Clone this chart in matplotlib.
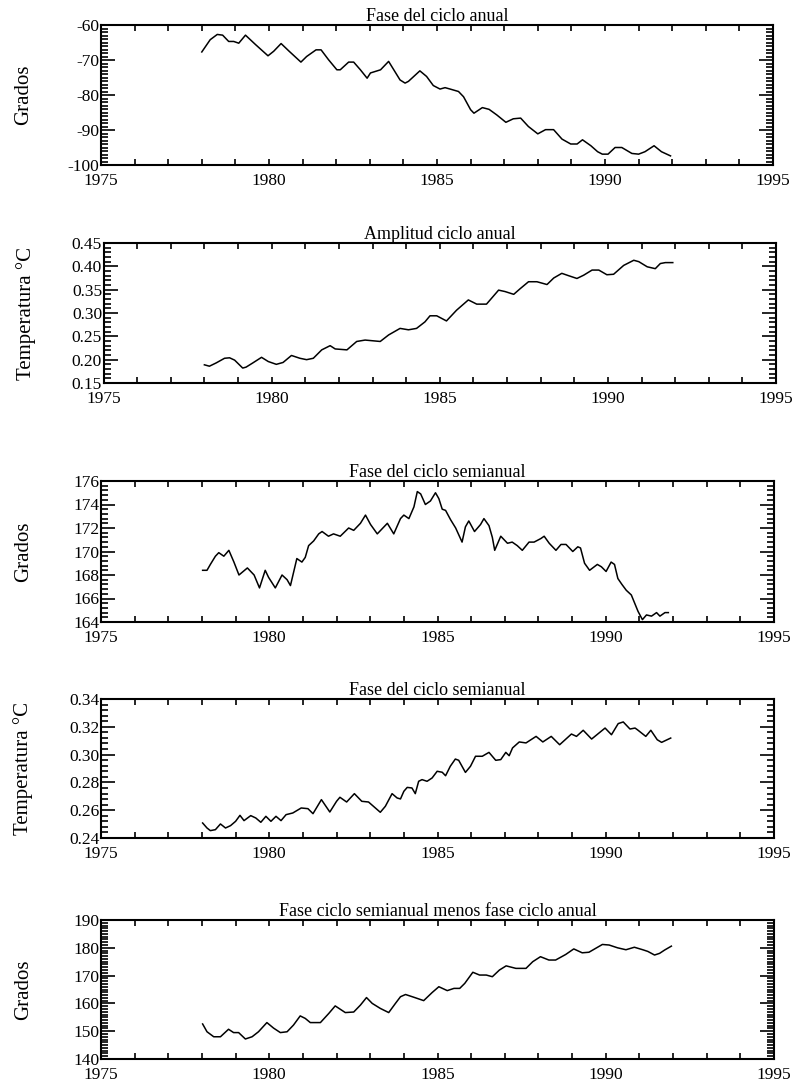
import numpy as np
import matplotlib
matplotlib.use("Agg")
import matplotlib.pyplot as plt
from matplotlib.ticker import MultipleLocator, FormatStrFormatter

plt.rcParams['font.family'] = ['Liberation Serif', 'DejaVu Serif']

# --- Fase del ciclo anual (grados)
t1 = [1978.0, 1978.25, 1978.46, 1978.62, 1978.8, 1978.95, 1979.1, 1979.3, 1979.6, 1979.97,
      1980.14, 1980.36, 1980.6, 1980.95, 1981.12, 1981.4, 1981.55, 1981.77, 1982.02, 1982.12,
      1982.37, 1982.52, 1982.72, 1982.92, 1983.02, 1983.32, 1983.56, 1983.9, 1984.05, 1984.15,
      1984.49, 1984.69, 1984.89, 1985.09, 1985.24, 1985.39, 1985.64, 1985.79, 1986.0, 1986.1,
      1986.35, 1986.55, 1986.78, 1987.05, 1987.27, 1987.49, 1987.72, 1988.0, 1988.23, 1988.47,
      1988.72, 1988.98, 1989.17, 1989.33, 1989.58, 1989.78, 1989.92, 1990.09, 1990.3, 1990.5,
      1990.8, 1991.0, 1991.19, 1991.46, 1991.68, 1991.95]
v1 = [-67.7, -64.2, -62.7, -62.9, -64.7, -64.7, -65.2, -62.9, -65.6, -68.8,
      -67.5, -65.3, -67.5, -70.6, -69.0, -67.1, -67.1, -69.9, -72.8, -72.8,
      -70.6, -70.6, -72.8, -75.2, -73.7, -72.8, -70.4, -75.7, -76.6, -76.1,
      -73.1, -74.7, -77.3, -78.3, -77.9, -78.3, -79.0, -80.5, -84.2, -85.2,
      -83.6, -84.1, -85.7, -87.8, -86.8, -86.6, -89.0, -91.1, -89.9, -89.9,
      -92.6, -94.0, -94.0, -92.8, -94.5, -96.2, -96.9, -96.9, -95.0, -95.0,
      -96.7, -96.9, -96.2, -94.5, -96.2, -97.4]

# --- Amplitud ciclo anual (temperatura)
t2 = [1978.0, 1978.15, 1978.35, 1978.6, 1978.75, 1978.9, 1979.14, 1979.24, 1979.44, 1979.7,
      1979.9, 1980.14, 1980.34, 1980.59, 1980.84, 1981.04, 1981.24, 1981.49, 1981.74, 1981.89,
      1982.24, 1982.53, 1982.78, 1983.23, 1983.48, 1983.82, 1984.07, 1984.31, 1984.56, 1984.71,
      1984.91, 1985.2, 1985.5, 1985.85, 1986.1, 1986.39, 1986.75, 1986.94, 1987.2, 1987.39,
      1987.64, 1987.89, 1988.19, 1988.39, 1988.63, 1988.83, 1989.08, 1989.28, 1989.53, 1989.73,
      1989.97, 1990.17, 1990.47, 1990.77, 1990.92, 1991.17, 1991.41, 1991.56, 1991.71, 1991.93]
v2 = [0.189, 0.186, 0.193, 0.203, 0.204, 0.199, 0.182, 0.184, 0.193, 0.205,
      0.196, 0.190, 0.194, 0.209, 0.203, 0.200, 0.203, 0.221, 0.230, 0.223,
      0.221, 0.239, 0.242, 0.239, 0.253, 0.267, 0.264, 0.267, 0.281, 0.294,
      0.294, 0.283, 0.306, 0.328, 0.319, 0.319, 0.349, 0.346, 0.340, 0.352,
      0.367, 0.367, 0.361, 0.375, 0.385, 0.380, 0.374, 0.381, 0.392, 0.392,
      0.382, 0.383, 0.402, 0.413, 0.410, 0.399, 0.395, 0.406, 0.408, 0.408]

# --- Fase del ciclo semianual (grados)
t3 = [1978.02, 1978.15, 1978.25, 1978.4, 1978.5, 1978.65, 1978.8, 1978.95, 1979.1, 1979.35,
      1979.55, 1979.71, 1979.88, 1979.98, 1980.18, 1980.38, 1980.53, 1980.63, 1980.82, 1980.97,
      1981.07, 1981.17, 1981.32, 1981.47, 1981.57, 1981.76, 1981.91, 1982.11, 1982.36, 1982.51,
      1982.71, 1982.86, 1983.01, 1983.21, 1983.41, 1983.51, 1983.7, 1983.9, 1984.0, 1984.15,
      1984.3, 1984.4, 1984.5, 1984.64, 1984.79, 1984.94, 1985.04, 1985.14, 1985.24, 1985.39,
      1985.54, 1985.73, 1985.83, 1985.93, 1986.1, 1986.28, 1986.38, 1986.53, 1986.63, 1986.7,
      1986.88, 1987.08, 1987.22, 1987.37, 1987.52, 1987.72, 1987.87, 1988.07, 1988.17, 1988.32,
      1988.52, 1988.67, 1988.82, 1989.02, 1989.17, 1989.25, 1989.37, 1989.52, 1989.75, 1989.87,
      1990.01, 1990.16, 1990.26, 1990.36, 1990.48, 1990.61, 1990.76, 1990.86, 1990.96, 1991.09,
      1991.21, 1991.36, 1991.51, 1991.61, 1991.76, 1991.86]
v3 = [168.4, 168.4, 168.9, 169.6, 169.9, 169.6, 170.1, 169.1, 168.0, 168.6,
      168.0, 166.9, 168.4, 167.8, 166.9, 168.0, 167.6, 167.1, 169.4, 169.1,
      169.5, 170.5, 170.9, 171.5, 171.7, 171.3, 171.5, 171.3, 172.0, 171.8,
      172.4, 173.1, 172.3, 171.5, 172.1, 172.4, 171.5, 172.8, 173.1, 172.8,
      173.8, 175.1, 174.9, 174.0, 174.3, 175.0, 174.5, 173.6, 173.5, 172.7,
      172.0, 170.8, 172.1, 172.6, 171.7, 172.3, 172.8, 172.2, 171.2, 170.1,
      171.3, 170.7, 170.8, 170.5, 170.1, 170.8, 170.8, 171.1, 171.3, 170.7,
      170.1, 170.6, 170.6, 170.0, 170.4, 170.3, 169.0, 168.4, 168.9, 168.7,
      168.3, 169.1, 168.9, 167.7, 167.2, 166.7, 166.3, 165.6, 164.9, 164.2,
      164.6, 164.5, 164.8, 164.5, 164.8, 164.8]

# --- "Fase" (amplitud) del ciclo semianual (temperatura)
t4 = [1978.02, 1978.15, 1978.25, 1978.4, 1978.55, 1978.7, 1978.85, 1979.0, 1979.13, 1979.25,
      1979.45, 1979.6, 1979.75, 1979.9, 1980.05, 1980.2, 1980.35, 1980.5, 1980.7, 1980.95,
      1981.15, 1981.3, 1981.55, 1981.8, 1982.0, 1982.1, 1982.3, 1982.53, 1982.75, 1982.95,
      1983.3, 1983.45, 1983.65, 1983.8, 1983.9, 1984.0, 1984.1, 1984.24, 1984.34, 1984.44,
      1984.54, 1984.69, 1984.84, 1984.99, 1985.14, 1985.24, 1985.38, 1985.53, 1985.63, 1985.83,
      1985.98, 1986.13, 1986.33, 1986.53, 1986.73, 1986.88, 1987.03, 1987.13, 1987.23, 1987.43,
      1987.63, 1987.93, 1988.13, 1988.38, 1988.63, 1988.98, 1989.13, 1989.33, 1989.58, 1989.98,
      1990.17, 1990.37, 1990.52, 1990.72, 1990.87, 1990.94, 1991.19, 1991.34, 1991.53, 1991.66,
      1991.93]
v4 = [0.2508, 0.2472, 0.2453, 0.246, 0.2501, 0.2472, 0.2489, 0.2520, 0.2563, 0.2525,
      0.2561, 0.2544, 0.2513, 0.2556, 0.2520, 0.2556, 0.2525, 0.2568, 0.2580, 0.2616,
      0.2611, 0.2575, 0.2676, 0.2587, 0.2664, 0.2693, 0.2659, 0.2719, 0.2664, 0.2659,
      0.2585, 0.2628, 0.2719, 0.2688, 0.2681, 0.2736, 0.2764, 0.2760, 0.2719, 0.2808,
      0.2820, 0.2808, 0.2832, 0.2880, 0.2873, 0.2848, 0.2916, 0.2968, 0.2959, 0.2872,
      0.2916, 0.2988, 0.2988, 0.3016, 0.2959, 0.2964, 0.3016, 0.2992, 0.3048, 0.3091,
      0.3084, 0.3131, 0.3091, 0.3131, 0.3071, 0.3148, 0.3131, 0.3175, 0.3112, 0.3191,
      0.3143, 0.3223, 0.3235, 0.3184, 0.3191, 0.3179, 0.3131, 0.3175, 0.3107, 0.3088,
      0.3119]

# --- Fase ciclo semianual menos fase ciclo anual (grados)
t5 = [1978.02, 1978.15, 1978.35, 1978.55, 1978.79, 1978.94, 1979.09, 1979.29, 1979.49, 1979.68,
      1979.93, 1980.13, 1980.33, 1980.53, 1980.72, 1980.92, 1981.07, 1981.22, 1981.52, 1981.77,
      1981.96, 1982.26, 1982.51, 1982.71, 1982.89, 1983.06, 1983.3, 1983.55, 1983.75, 1983.9,
      1984.05, 1984.3, 1984.59, 1984.84, 1985.04, 1985.29, 1985.49, 1985.66, 1985.81, 1986.05,
      1986.25, 1986.45, 1986.63, 1986.84, 1987.04, 1987.33, 1987.63, 1987.83, 1988.06, 1988.31,
      1988.51, 1988.81, 1989.05, 1989.3, 1989.5, 1989.7, 1989.9, 1990.1, 1990.35, 1990.6,
      1990.85, 1991.1, 1991.25, 1991.45, 1991.6, 1991.75, 1991.95]
v5 = [152.6, 149.8, 148.0, 148.0, 150.7, 149.5, 149.5, 147.2, 148.0, 149.8,
      153.1, 151.1, 149.5, 149.8, 152.2, 155.5, 154.6, 153.1, 153.1, 156.4,
      159.1, 156.7, 156.9, 159.4, 162.1, 160.0, 158.2, 156.7, 160.0, 162.4,
      163.2, 162.2, 161.0, 163.9, 166.0, 164.6, 165.4, 165.4, 167.2, 171.2,
      170.2, 170.2, 169.6, 172.0, 173.5, 172.6, 172.6, 175.0, 176.8, 175.6,
      175.6, 177.6, 179.6, 178.2, 178.4, 179.8, 181.2, 181.0, 180.0, 179.3,
      180.2, 179.3, 178.7, 177.4, 178.0, 179.2, 180.6]

series = [t1, t2, t3, t4, t5]
values = [v1, v2, v3, v4, v5]
titles = ["Fase del ciclo anual", "Amplitud ciclo anual", "Fase del ciclo semianual",
          "Fase del ciclo semianual", "Fase ciclo semianual menos fase ciclo anual"]
ylabels = ["Grados", "Temperatura °C", "Grados", "Temperatura °C", "Grados"]
ylims = [(-100, -60), (0.15, 0.45), (164, 176), (0.24, 0.34), (140, 190)]
ymajor = [10, 0.05, 2, 0.02, 10]
yminor = [1, 0.01, 0.4, 0.004, 1]
yfmt = ["%d", "%.2f", "%d", "%.2f", "%d"]

# axes boxes in pixels: left, top, right, bottom
W, H = 804, 1085
boxes = [(101, 25, 773, 165), (103.5, 243, 776, 383), (101, 481, 774, 622),
         (101, 699, 774, 838), (101, 920, 774, 1059)]

fig = plt.figure(figsize=(W / 100, H / 100), dpi=100)

for i in range(5):
    l, t, r, b = boxes[i]
    ax = fig.add_axes([l / W, 1 - b / H, (r - l) / W, (b - t) / H])
    ax.plot(series[i], values[i], color='black', lw=1.1)
    ax.set_xlim(1975, 1995)
    ax.set_ylim(*ylims[i])
    ax.xaxis.set_major_locator(MultipleLocator(5))
    ax.xaxis.set_minor_locator(MultipleLocator(1))
    ax.yaxis.set_major_locator(MultipleLocator(ymajor[i]))
    ax.yaxis.set_minor_locator(MultipleLocator(yminor[i]))
    ax.yaxis.set_major_formatter(FormatStrFormatter(yfmt[i]))
    ax.tick_params(axis='both', which='both', direction='in', top=True, right=True,
                   width=1.2, labelsize=12.5)
    ax.tick_params(axis='x', which='both', length=4, pad=6)
    ax.tick_params(axis='y', which='major', length=10, pad=1)
    ax.tick_params(axis='y', which='minor', length=5)
    for sp in ax.spines.values():
        sp.set_linewidth(1.5)
    ax.set_title(titles[i], fontsize=13, pad=2)
    ax.set_ylabel(ylabels[i], fontsize=15)
    ax.yaxis.set_label_coords(-0.101, 0.5)

fig.savefig("out.png", dpi=100)
